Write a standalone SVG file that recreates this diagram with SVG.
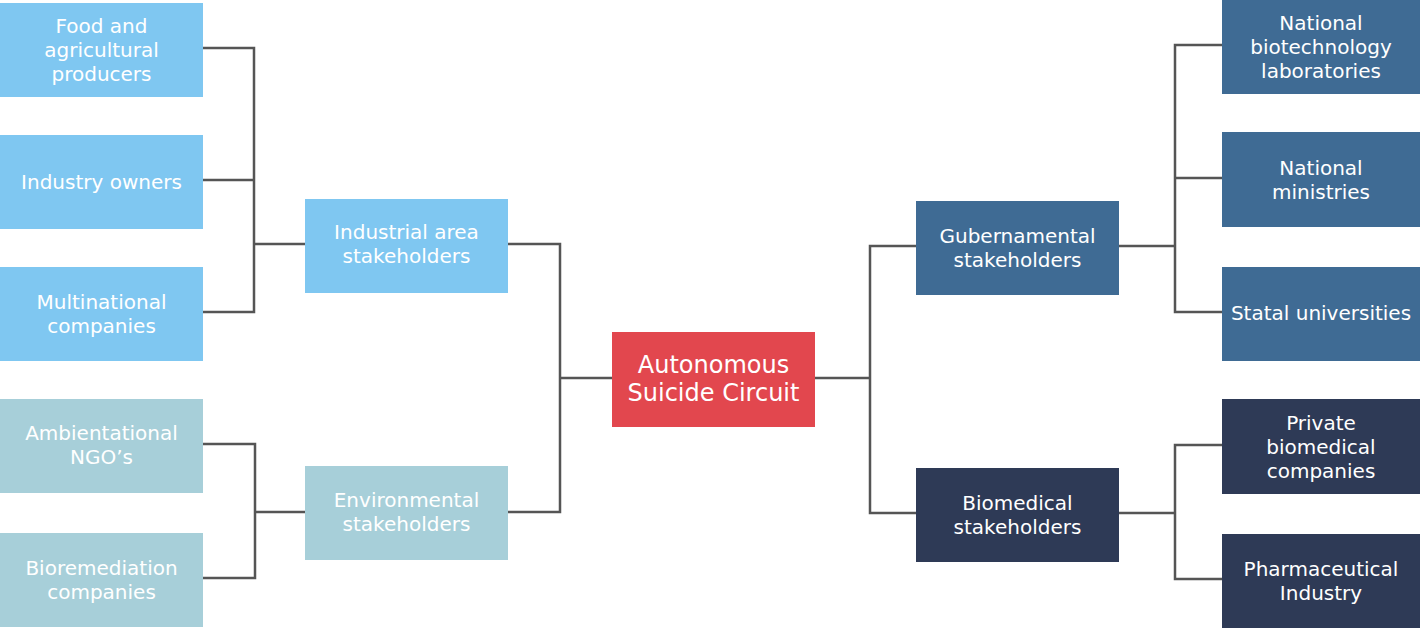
<svg xmlns="http://www.w3.org/2000/svg" width="1420" height="629" viewBox="0 0 1420 629">
<style>
.lb{fill:#7fc7f1}
.tl{fill:#a7cfd9}
.rd{fill:#e2474e}
.gb{fill:#3f6b94}
.nv{fill:#2e3a56}
text{font-family:"DejaVu Sans","Open Sans",sans-serif;font-size:20px;fill:#ffffff;text-anchor:middle}
.big{font-size:24px}
.con{fill:none;stroke:#555555;stroke-width:2.5}
</style>
<rect width="1420" height="629" fill="#ffffff"/>
<g id="connectors">
<path class="con" d="M203,48 H254 V312 H203 M203,180 H254 M254,244 H305"/>
<path class="con" d="M203,444 H255 V578 H203 M255,512 H305"/>
<path class="con" d="M508,244 H560 V512 H508 M560,378 H612"/>
<path class="con" d="M815,378 H870 M916,246 H870 V513 H916"/>
<path class="con" d="M1119,246 H1175 M1222,45 H1175 V312 H1222 M1175,178 H1222"/>
<path class="con" d="M1119,513 H1175 M1222,445 H1175 V579 H1222"/>
</g>
<g id="food"><rect class="lb" x="0" y="3" width="203" height="94"/><text x="101.5" y="33">Food and</text><text x="101.5" y="57">agricultural</text><text x="101.5" y="81">producers</text></g>
<g id="industry-owners"><rect class="lb" x="0" y="135" width="203" height="94"/><text x="101.5" y="189">Industry owners</text></g>
<g id="multinational"><rect class="lb" x="0" y="267" width="203" height="94"/><text x="101.5" y="309">Multinational</text><text x="101.5" y="333">companies</text></g>
<g id="ngos"><rect class="tl" x="0" y="399" width="203" height="94"/><text x="101.5" y="440">Ambientational</text><text x="101.5" y="464">NGO’s</text></g>
<g id="bioremediation"><rect class="tl" x="0" y="533" width="203" height="94"/><text x="101.5" y="575">Bioremediation</text><text x="101.5" y="599">companies</text></g>
<g id="industrial"><rect class="lb" x="305" y="199" width="203" height="94"/><text x="406.5" y="239">Industrial area</text><text x="406.5" y="263">stakeholders</text></g>
<g id="environmental"><rect class="tl" x="305" y="466" width="203" height="94"/><text x="406.5" y="507">Environmental</text><text x="406.5" y="531">stakeholders</text></g>
<g id="center"><rect class="rd" x="612" y="332" width="203" height="95"/><text class="big" x="713.5" y="373">Autonomous</text><text class="big" x="713.5" y="401">Suicide Circuit</text></g>
<g id="gubernamental"><rect class="gb" x="916" y="201" width="203" height="94"/><text x="1017.5" y="243">Gubernamental</text><text x="1017.5" y="267">stakeholders</text></g>
<g id="biomedical"><rect class="nv" x="916" y="468" width="203" height="94"/><text x="1017.5" y="510">Biomedical</text><text x="1017.5" y="534">stakeholders</text></g>
<g id="biotech-labs"><rect class="gb" x="1222" y="0" width="198" height="94"/><text x="1321" y="30">National</text><text x="1321" y="54">biotechnology</text><text x="1321" y="78">laboratories</text></g>
<g id="ministries"><rect class="gb" x="1222" y="132" width="198" height="95"/><text x="1321" y="175">National</text><text x="1321" y="199">ministries</text></g>
<g id="universities"><rect class="gb" x="1222" y="267" width="198" height="94"/><text x="1321" y="320">Statal universities</text></g>
<g id="private-biomed"><rect class="nv" x="1222" y="399" width="198" height="95"/><text x="1321" y="430">Private</text><text x="1321" y="454">biomedical</text><text x="1321" y="478">companies</text></g>
<g id="pharma"><rect class="nv" x="1222" y="534" width="198" height="94"/><text x="1321" y="576">Pharmaceutical</text><text x="1321" y="600">Industry</text></g>
</svg>
